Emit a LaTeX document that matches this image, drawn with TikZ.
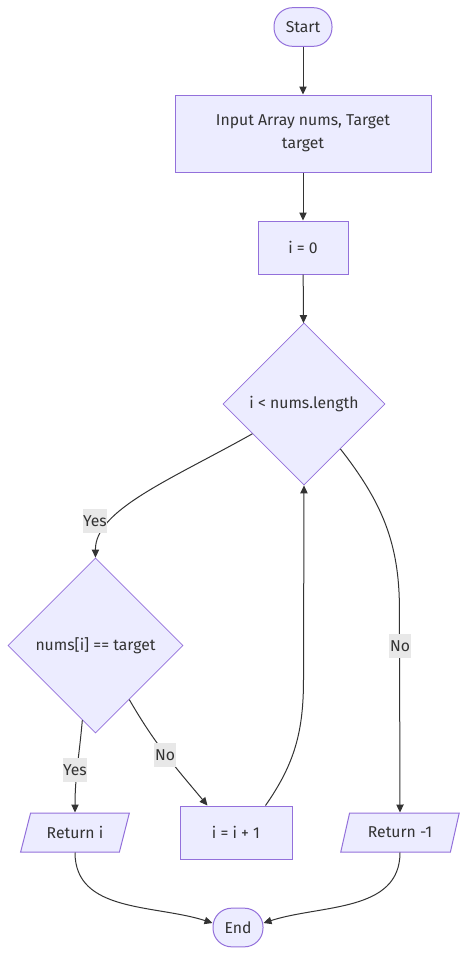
\documentclass[tikz,border=0pt]{standalone}
\usepackage{fontspec}
\setmainfont{Fira Sans}
\usepackage{xcolor}
\usetikzlibrary{shapes.geometric,arrows.meta}

\definecolor{boxfill}{HTML}{ECECFF}
\definecolor{boxline}{HTML}{9370DB}
\definecolor{edgeline}{HTML}{333333}
\definecolor{lblfill}{HTML}{E8E8E8}
\definecolor{txt}{HTML}{333333}

\tikzset{
  base/.style={draw=boxline, fill=boxfill, text=txt, line width=0.75pt,
    font=\fontsize{11.8}{17.25}\selectfont, inner sep=0pt, align=center},
  terminal/.style={base, rectangle, rounded corners=14pt, minimum width=#1, minimum height=29pt},
  process/.style={base, rectangle, minimum width=#1},
  decision/.style={base, diamond, line width=0.6pt, minimum width=#1, minimum height=#1},
  inout/.style={base, trapezium, trapezium left angle=63, trapezium right angle=117,
    trapezium stretches=true, minimum width=#1, minimum height=29.25pt},
  lbl/.style={fill=lblfill, text=txt, font=\fontsize{11.8}{14}\selectfont,
    inner xsep=0.5pt, inner ysep=0pt, minimum height=18pt},
  arr/.style={draw=edgeline, line width=0.75pt, -{Triangle[length=6pt,width=5.5pt]}}
}

\begin{document}
\begin{tikzpicture}[x=0.75pt, y=-0.75pt]
    \useasboundingbox (0,0) rectangle (475,972);

    % Start and input
    \node[terminal=43.5pt] (start) at (303,27) {Start};
    \node[process=192pt, minimum height=57.75pt] (input) at (303,133.5) {Input Array nums, Target\\target};
    \node[process=67.5pt, minimum height=39.75pt] (init) at (303,247.5) {i = 0};

    % Decisions
    \node[decision=121.5pt] (loop) at (304,404) {i < nums.length};
    \node[decision=131.25pt] (check) at (95.5,645.5) {nums[i] == target};

    % Bottom row
    \node[inout=81.75pt] (reti) at (75,832.5) {Return i};
    \node[process=84pt, minimum height=39.75pt] (inc) at (236,832.5) {i = i + 1};
    \node[inout=89.25pt] (retm) at (400,832.5) {Return -1};
    \node[terminal=37.5pt] (end) at (238,927.5) {End};

    % Arrows
    \draw[arr] (start) -- (input);
    \draw[arr] (input) -- (init);
    \draw[arr] (init) -- (loop);

    \draw[arr] (loop.-150) .. controls (170,480) and (95,510) .. (check.north);
    \draw[arr] (loop.-51) to[out=-52, in=90] ++(59,160) -- (retm.north);
    \draw[arr] (check.-100) to[out=-95, in=90] (reti.north);
    \draw[arr] (check.-58) to[out=-60, in=130] ([xshift=21pt]inc.north west);
    \draw[arr] ([xshift=-20.25pt]inc.north east) to[out=55, in=-90] ++(38,-126) -- (loop.south);

    \draw[arr] (reti.south) to[out=-90, in=162] (end.170);
    \draw[arr] (retm.south) to[out=-90, in=18] (end.10);

    % Edge labels
    \node[lbl] (yes1) at (95,521) {Yes};
    \node[lbl] (no1) at (400,646) {No};
    \node[lbl] (yes2) at (75,770) {Yes};
    \node[lbl] (no2) at (165,755) {No};
\end{tikzpicture}
\end{document}
